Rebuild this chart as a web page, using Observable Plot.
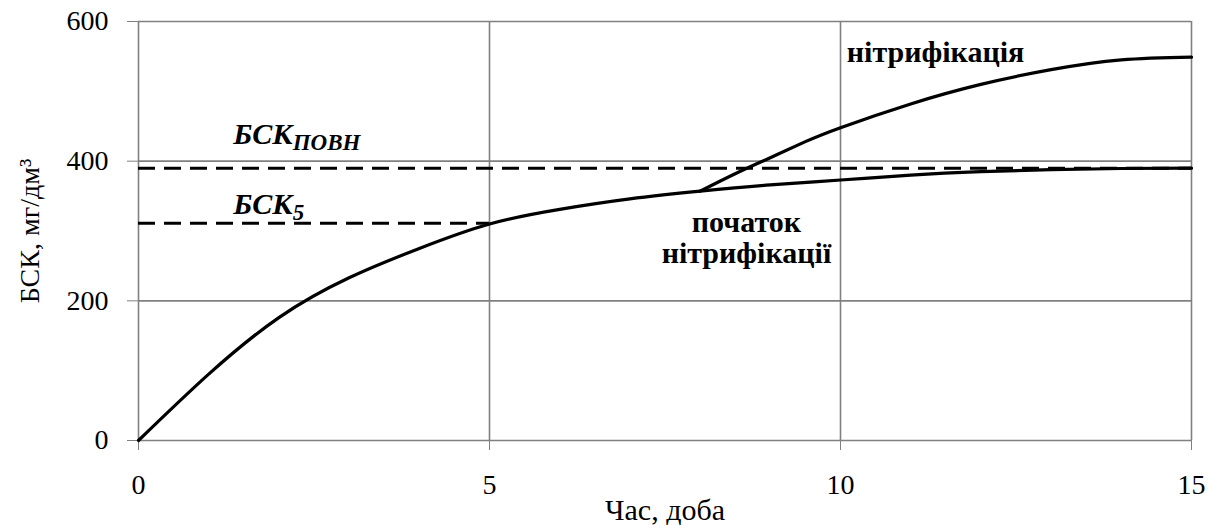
<!DOCTYPE html>
<html>
<head>
<meta charset="utf-8">
<script src="https://cdn.jsdelivr.net/npm/d3@7"></script>
<script src="https://cdn.jsdelivr.net/npm/@observablehq/plot@0.6"></script>
<style>
  body { margin: 0; background: #fff; }
  #chart { width: 1216px; height: 525px; }
</style>
</head>
<body>
<div id="chart"></div>
<script>
// ---- data ----
const days = [0, 1, 2, 3, 4, 5, 6, 7, 8, 9, 10, 11, 12, 13, 14, 15];
const bod = [0, 95, 176, 233, 275, 310, 331, 346, 357, 366, 373, 380, 385, 388, 389.5, 390];

const nitDays = [8, 8.5, 9, 9.5, 10, 11, 12, 13, 14, 15];
const nitBod = [357, 382, 405, 428, 448, 482, 510, 531, 545, 549];

const refValues = [390, 311];   // БСКповн, БСК5
const refEnds = [15, 5];

const xTicks = [0, 5, 10, 15];
const yTicks = [0, 200, 400, 600];

const xTitle = "Час, доба";
const yTitle = "БСК, мг/дм³";

// labels: text ("_" marks the subscript), anchor in data units
const labelTexts = ["БСК_ПОВН", "БСК_5", "нітрифікація"];
const labelX = [1.35, 1.35, 10.09];
const labelY = [438, 338, 556];
const labelItalic = [true, true, false];

const noteText = "початок\nнітрифікації";
const noteX = [8.66];
const noteY = [330];

// ---- build ----
const refs = refValues.map((v, i) => ({v, end: refEnds[i]}));
const labels = labelTexts.map((t, i) => ({t, x: labelX[i], y: labelY[i], it: labelItalic[i]}));

const grey = "#808080";
const font = "'Liberation Serif', 'DejaVu Serif', 'Noto Serif', serif";

const plot = Plot.plot({
  width: 1216,
  height: 525,
  marginLeft: 138,
  marginRight: 25,
  marginTop: 21,
  marginBottom: 85,
  style: {fontSize: "28px", color: "#000", background: "#fff"},
  x: {domain: [0, 15]},
  y: {domain: [0, 600]},
  marks: [
    Plot.gridX(xTicks.slice(1), {stroke: grey, strokeOpacity: 1, strokeWidth: 1.6}),
    Plot.gridY(yTicks.slice(1), {stroke: grey, strokeOpacity: 1, strokeWidth: 1.6}),
    Plot.ruleX([0], {stroke: grey, strokeWidth: 1.6}),
    Plot.ruleY([0], {stroke: grey, strokeWidth: 1.6}),
    Plot.axisX(xTicks, {tickSize: 10, tickPadding: 24, stroke: grey, fill: "#000", fontSize: 28, label: null}),
    Plot.axisY(yTicks, {tickSize: 11, tickPadding: 19, stroke: grey, fill: "#000", fontSize: 28, label: null}),
    Plot.ruleY(refs, {y: "v", x1: 0, x2: "end", stroke: "#000", strokeWidth: 3, strokeDasharray: "17,9"}),
    Plot.line(days, {x: days, y: bod, stroke: "#000", strokeWidth: 3.2, curve: "natural"}),
    Plot.line(nitDays, {x: nitDays, y: nitBod, stroke: "#000", strokeWidth: 3.2, curve: "natural"}),
    Plot.text(labels.filter(d => d.it), {x: "x", y: "y", text: "t", textAnchor: "start", fontWeight: "bold", fontStyle: "italic", fontSize: 30, fill: "#000"}),
    Plot.text(labels.filter(d => !d.it), {x: "x", y: "y", text: "t", textAnchor: "start", fontWeight: "bold", fontSize: 30, fill: "#000"}),
    Plot.text([noteText], {x: noteX, y: noteY, textAnchor: "middle", lineAnchor: "top", lineHeight: 1.04, fontWeight: "bold", fontSize: 30, fill: "#000"}),
    Plot.text([xTitle], {frameAnchor: "bottom", lineAnchor: "middle", dy: 70, fontSize: 30, fill: "#000"}),
    Plot.text([yTitle], {frameAnchor: "left", rotate: -90, dx: -108, textAnchor: "middle", lineAnchor: "middle", fontSize: 28, fill: "#000"})
  ]
});

// serif font everywhere (falls back to what is installed)
plot.setAttribute("font-family", font);
plot.style.fontFamily = font;
d3.select(plot).selectAll("g, text").attr("font-family", font);

// subscripts
d3.select(plot).selectAll("text").each(function () {
  const t = this.textContent;
  if (t.includes("_") && this.children.length === 0) {
    const [a, b] = t.split("_");
    const sel = d3.select(this);
    sel.text(a);
    sel.append("tspan").attr("font-size", 23).attr("dy", 6).text(b);
  }
});

document.getElementById("chart").appendChild(plot);
</script>
</body>
</html>
